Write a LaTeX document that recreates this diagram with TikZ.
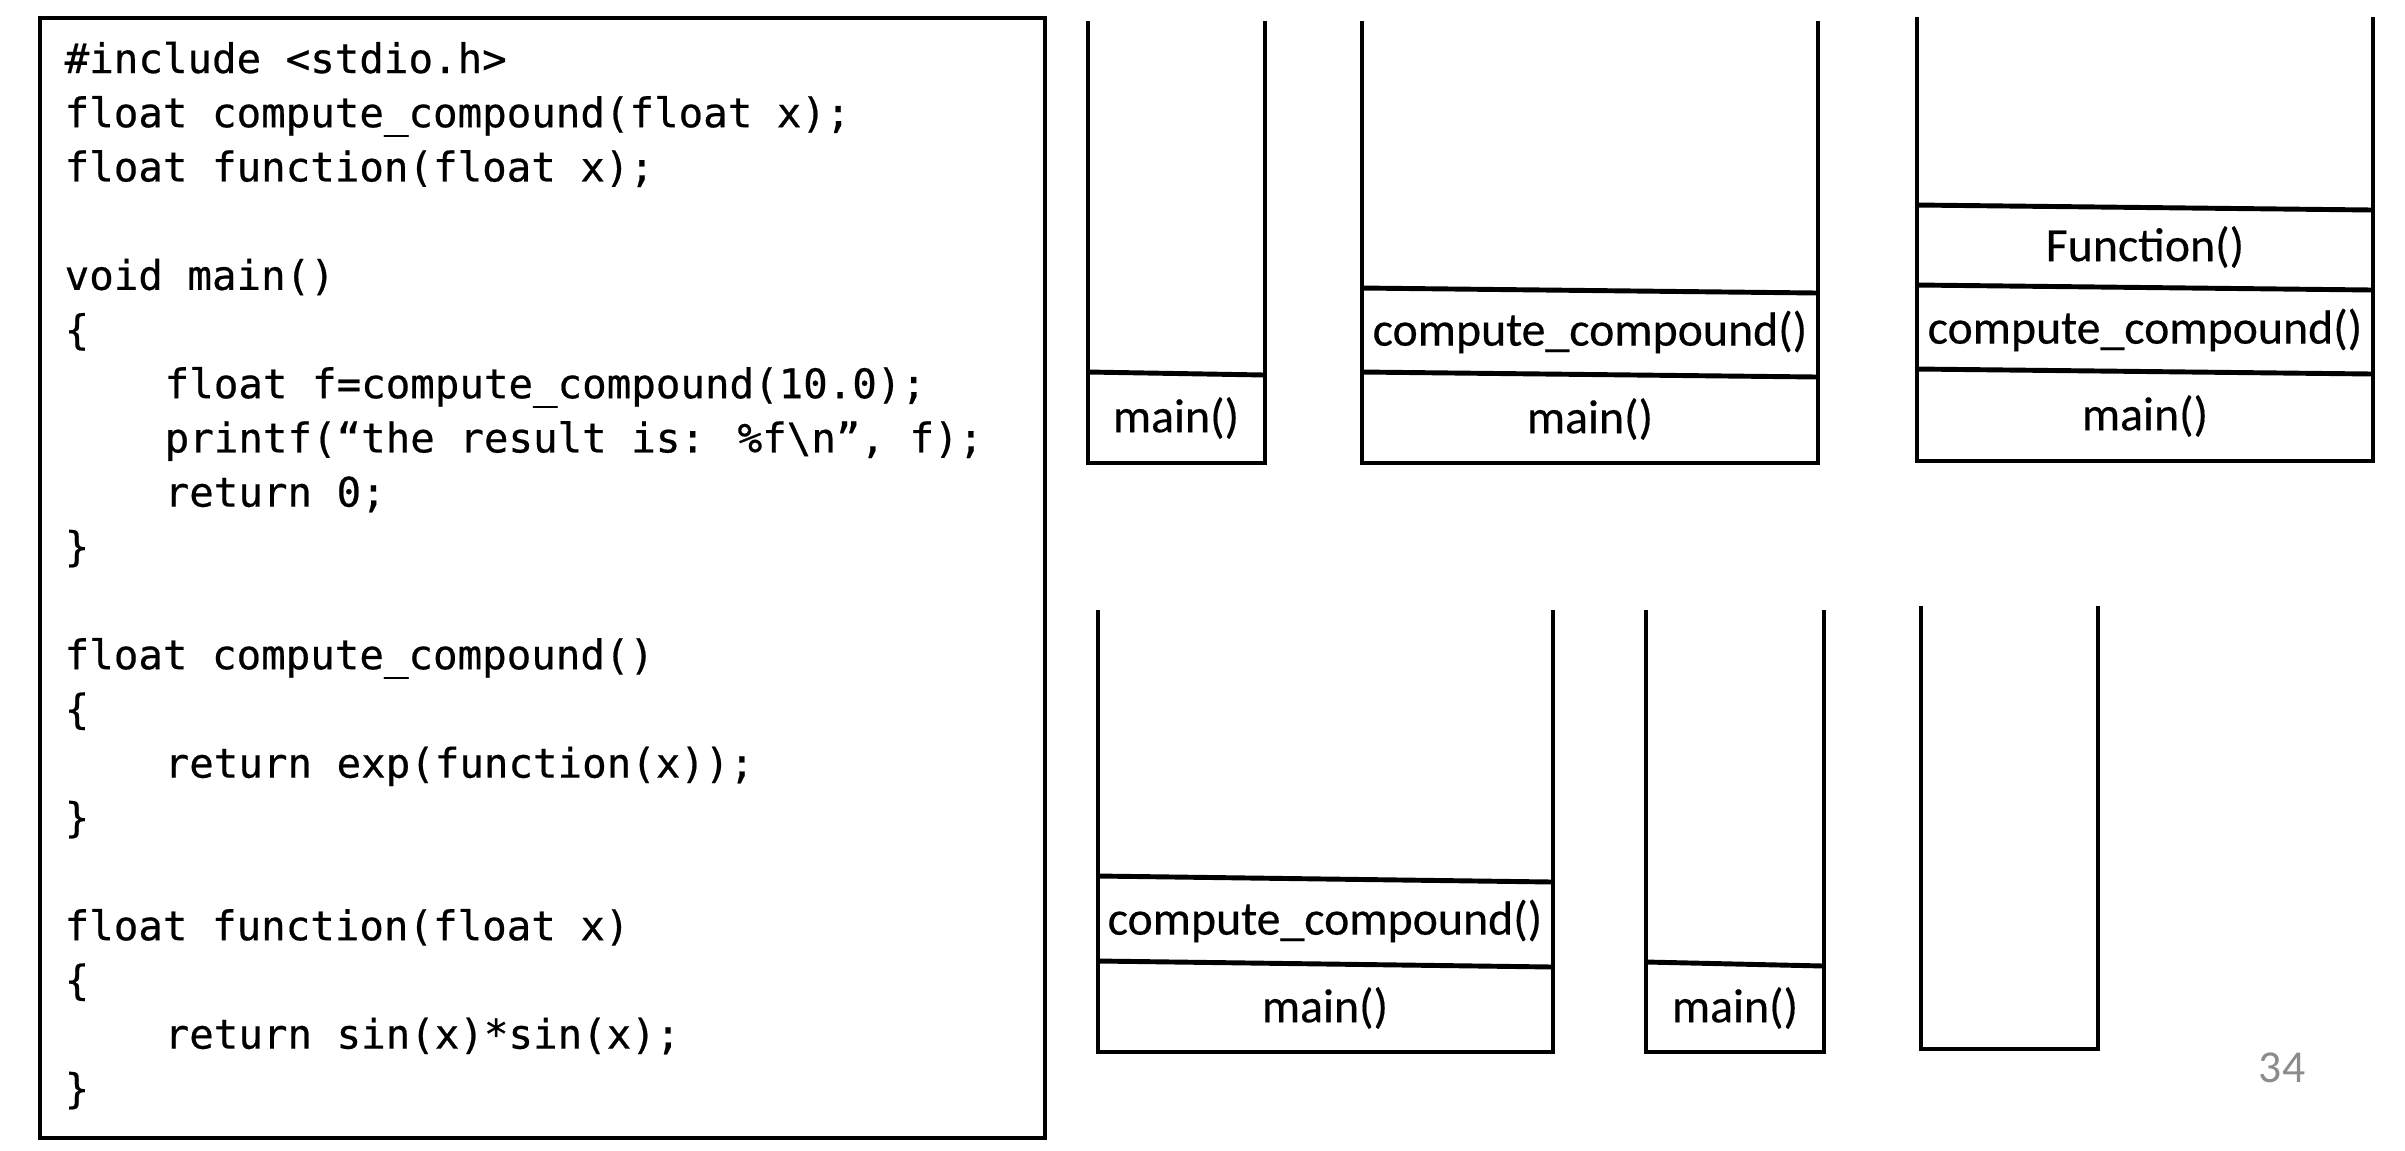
\documentclass[tikz,border=0pt]{standalone}
\usepackage{fontspec}
\setmainfont{Carlito}[FakeBold=0.35]
\newfontfamily\codefont{DejaVu Sans Mono}[FakeBold=0.5]
\newfontfamily\numfont{Carlito}
\definecolor{pagegray}{HTML}{8C8C8C}
\tikzset{
  codeline/.style={anchor=base west, inner sep=0pt, font=\codefont\fontsize{11.6}{14}\selectfont},
  codeframe/.style={draw=black, line width=1pt},
  stackwall/.style={draw=black, line width=1.4pt, line join=miter},
  slotline/.style={draw=black, line width=1.4pt},
  frame label/.style={inner sep=0pt, font=\fontsize{13.6}{16}\selectfont},
  pagenum/.style={inner sep=0pt, text=pagegray, font=\numfont\fontsize{13}{15}\selectfont}
}
\begin{document}
\begin{tikzpicture}[x=0.01cm, y=-0.01cm]
  \useasboundingbox (0,0) rectangle (2405,1150);

  % source listing
  \draw[codeframe] (40,18) rectangle (1045,1138);
  \node[codeline] (l1)  at (64,73)     {\#include <stdio.h>};
  \node[codeline] (l2)  at (64,127.2)  {float compute\_compound(float x);};
  \node[codeline] (l3)  at (64,181.4)  {float function(float x);};
  \node[codeline] (l4)  at (64,289.8)  {void main()};
  \node[codeline] (l5)  at (64,344)    {\{};
  \node[codeline] (l6)  at (164,398.2) {float f=compute\_compound(10.0);};
  \node[codeline] (l7)  at (164,452.4) {printf(“the result is: \%f\textbackslash n”, f);};
  \node[codeline] (l8)  at (164,506.6) {return 0;};
  \node[codeline] (l9)  at (64,560.8)  {\}};
  \node[codeline] (l10) at (64,669.2)  {float compute\_compound()};
  \node[codeline] (l11) at (64,723.4)  {\{};
  \node[codeline] (l12) at (164,777.6) {return exp(function(x));};
  \node[codeline] (l13) at (64,831.8)  {\}};
  \node[codeline] (l14) at (64,940.2)  {float function(float x)};
  \node[codeline] (l15) at (64,994.4)  {\{};
  \node[codeline] (l16) at (164,1048.6){return sin(x)*sin(x);};
  \node[codeline] (l17) at (64,1102.8) {\}};

  % stack 1: main only
  \draw[stackwall] (1088,21) -- (1088,463) -- (1265,463) -- (1265,21);
  \draw[slotline] (1088,372) -- (1265,375);
  \node[frame label] (s1main) at (1176,418) {main()};

  % stack 2: main, compute_compound
  \draw[stackwall] (1362,21) -- (1362,463) -- (1818,463) -- (1818,21);
  \draw[slotline] (1362,288) -- (1818,293);
  \draw[slotline] (1362,372) -- (1818,377);
  \node[frame label] (s2cc)   at (1590,332) {compute\_compound()};
  \node[frame label] (s2main) at (1590,419) {main()};

  % stack 3: main, compute_compound, Function
  \draw[stackwall] (1917,17) -- (1917,461) -- (2373,461) -- (2373,17);
  \draw[slotline] (1917,205) -- (2373,210);
  \draw[slotline] (1917,285) -- (2373,290);
  \draw[slotline] (1917,369) -- (2373,374);
  \node[frame label] (s3fn)   at (2145,247) {Function()};
  \node[frame label] (s3cc)   at (2145,330) {compute\_compound()};
  \node[frame label] (s3main) at (2145,416) {main()};

  % stack 4: Function returned
  \draw[stackwall] (1098,610) -- (1098,1052) -- (1553,1052) -- (1553,610);
  \draw[slotline] (1098,876) -- (1553,882);
  \draw[slotline] (1098,961) -- (1553,967);
  \node[frame label] (s4cc)   at (1325,921) {compute\_compound()};
  \node[frame label] (s4main) at (1325,1008) {main()};

  % stack 5: compute_compound returned
  \draw[stackwall] (1646,610) -- (1646,1052) -- (1824,1052) -- (1824,610);
  \draw[slotline] (1646,962) -- (1824,966);
  \node[frame label] (s5main) at (1735,1008) {main()};

  % stack 6: empty
  \draw[stackwall] (1921,606) -- (1921,1049) -- (2098,1049) -- (2098,606);

  % slide number
  \node[pagenum] (page) at (2282,1068) {34};
\end{tikzpicture}
\end{document}
